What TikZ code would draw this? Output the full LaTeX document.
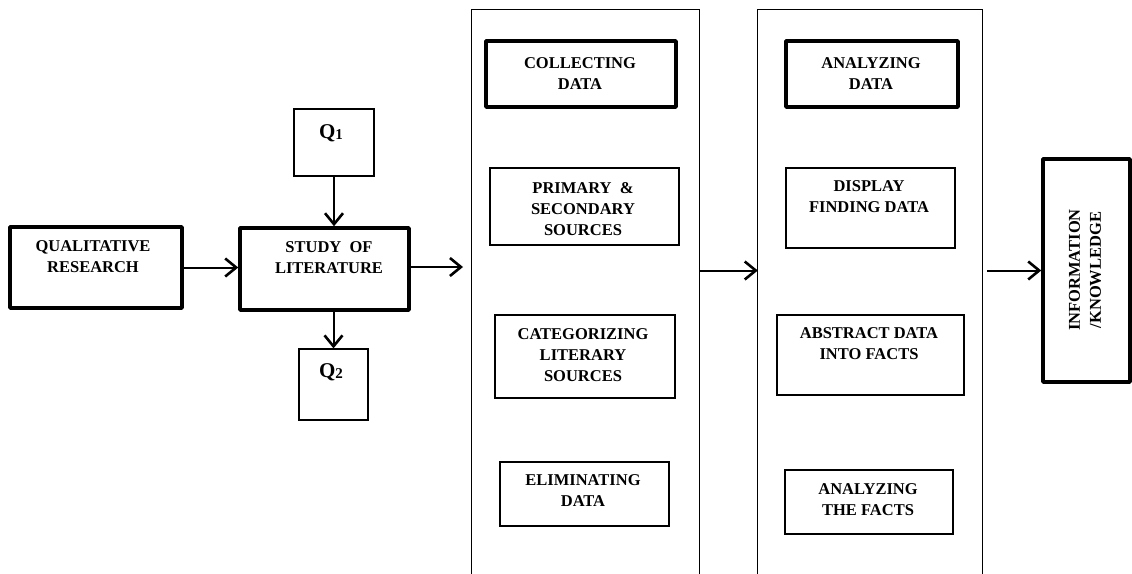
\documentclass[tikz,border=0pt]{standalone}
\usepackage{fontspec}
\setmainfont{Liberation Serif}
\usetikzlibrary{arrows.meta}
\begin{document}
\begin{tikzpicture}[x=1pt,y=-1pt,
  thinbox/.style={draw, line width=1.2pt, inner sep=0pt},
  thickbox/.style={draw, line width=3.5pt, line join=round, inner sep=0pt},
  txt/.style={font=\bfseries\fontsize{16.5}{21}\selectfont, align=center, inner sep=0pt},
  qtxt/.style={font=\bfseries\fontsize{21}{25}\selectfont, inner sep=0pt},
  panel/.style={inner sep=0pt},
  panelline/.style={line width=1.2pt},
  arr/.style={line width=2pt, -{Straight Barb[length=11pt,width=18pt,line width=2.6pt]}}
]
\useasboundingbox (0,0) rectangle (1132,573);

% left part
\node[thickbox, minimum width=172pt, minimum height=81pt] (qr) at (96,267.5) {};
\node[txt] (qrt) at (93,257) {QUALITATIVE\\RESEARCH};
\node[thickbox, minimum width=169pt, minimum height=82pt] (study) at (324.5,269) {};
\node[txt] (studyt) at (329,258) {STUDY\ \ OF\\LITERATURE};
\node[thinbox, minimum width=80pt, minimum height=67pt] (q1) at (334,142.5) {};
\node[qtxt] (q1t) at (331,133) {Q\raisebox{-1.5pt}{\fontsize{15}{18}\selectfont 1}};
\node[thinbox, minimum width=69pt, minimum height=71pt] (q2) at (333.5,384.5) {};
\node[qtxt] (q2t) at (331,372) {Q\raisebox{-1.5pt}{\fontsize{15}{18}\selectfont 2}};
\coordinate (sout) at (463,267);

% left panel
\node[panel, minimum width=227pt, minimum height=570pt] (lp) at (585.5,295) {};
\draw[panelline] (lp.south west) -- (lp.north west) -- (lp.north east) -- (lp.south east);
\node[thickbox, minimum width=190pt, minimum height=66pt] (cd) at (581,74) {};
\node[txt] (cdt) at (580,74) {COLLECTING\\DATA};
\node[thinbox, minimum width=189pt, minimum height=77pt] (ps) at (584.5,206.5) {};
\node[txt] (pst) at (583,209) {PRIMARY\ \ \&\\SECONDARY\\SOURCES};
\node[thinbox, minimum width=180pt, minimum height=83pt] (cat) at (585,356.5) {};
\node[txt] (catt) at (583,355) {CATEGORIZING\\LITERARY\\SOURCES};
\node[thinbox, minimum width=169pt, minimum height=64pt] (el) at (584.5,494) {};
\node[txt] (elt) at (583,490.5) {ELIMINATING\\DATA};

% right panel
\node[panel, minimum width=224pt, minimum height=570pt] (rp) at (870,295) {};
\draw[panelline] (rp.south west) -- (rp.north west) -- (rp.north east) -- (rp.south east);
\node[thickbox, minimum width=172pt, minimum height=66pt] (ad) at (872,74) {};
\node[txt] (adt) at (871,74) {ANALYZING\\DATA};
\node[thinbox, minimum width=169pt, minimum height=80pt] (df) at (870.5,208) {};
\node[txt] (dft) at (869,197) {DISPLAY\\FINDING DATA};
\node[thinbox, minimum width=187pt, minimum height=80pt] (ab) at (870.5,355) {};
\node[txt] (abt) at (869,344) {ABSTRACT DATA\\INTO FACTS};
\node[thinbox, minimum width=168pt, minimum height=64pt] (af) at (869,502) {};
\node[txt] (aft) at (868,499.5) {ANALYZING\\THE FACTS};

% info
\node[thickbox, minimum width=87pt, minimum height=223pt] (info) at (1086.5,270.5) {};
\node[txt, rotate=90] (infot) at (1085,270) {INFORMATION\\/KNOWLEDGE};

% arrows
\draw[arr] (qr.east) -- (qr.east -| study.west);
\draw[arr] (study.east |- sout) -- (sout);
\draw[arr] (q1.south) -- (q1.south |- study.north);
\draw[arr] (q2.north |- study.south) -- (q2.north);
\draw[arr] (lp.east |- info.west) -- (rp.west |- info.west);
\draw[arr, shorten <=5pt] (rp.east |- info.west) -- (info.west);
\end{tikzpicture}
\end{document}
